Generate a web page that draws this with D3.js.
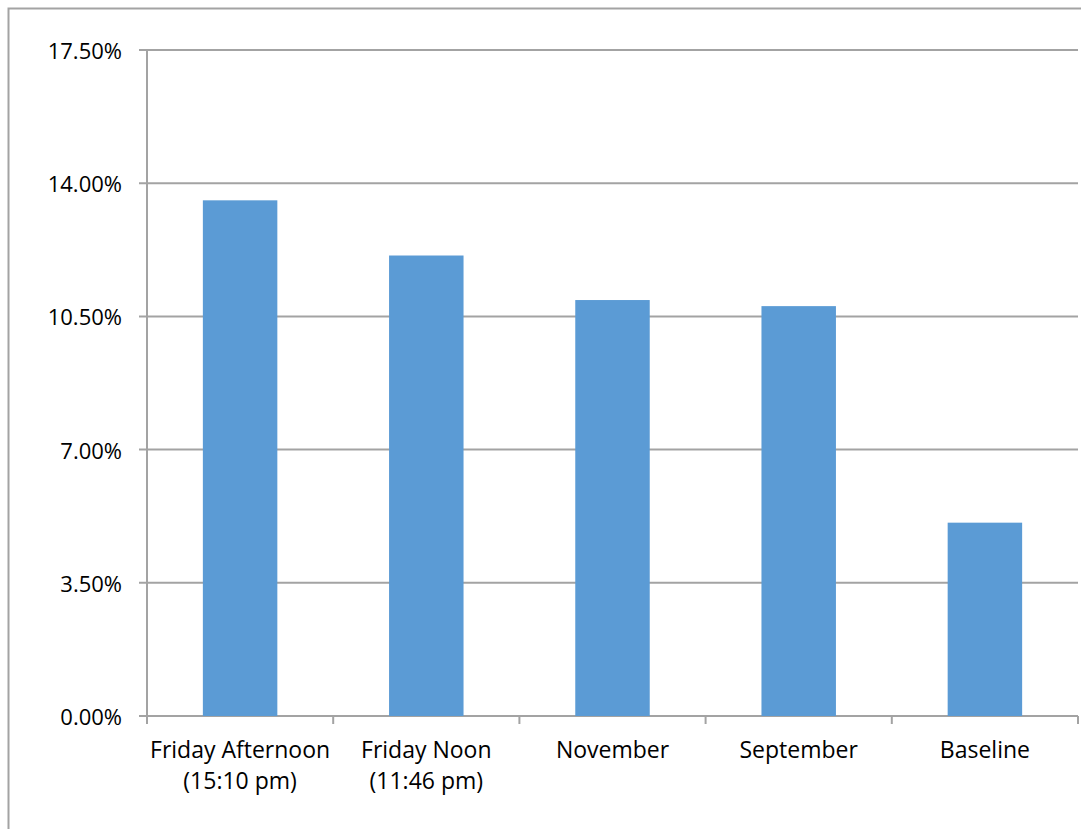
<!DOCTYPE html>
<html>
<head>
<meta charset="utf-8">
<script src="https://cdn.jsdelivr.net/npm/d3@7/dist/d3.min.js"></script>
<style>
  html, body { margin: 0; padding: 0; background: #fff; }
  svg { display: block; }
  text { font-family: "Open Sans", "Noto Sans", sans-serif; fill: #000; }
</style>
</head>
<body>
<svg id="chart" width="1081" height="829"></svg>
<script>
// Share of responses per group
const categories = ["Friday Afternoon|(15:10 pm)", "Friday Noon|(11:46 pm)", "November", "September", "Baseline"];
const values = [0.1355, 0.1210, 0.1093, 0.1077, 0.0508];
const yTicks = [0, 0.035, 0.07, 0.105, 0.14, 0.175];

const W = 1081, H = 829;
const plot = { left: 147, right: 1078, top: 50, bottom: 716 };
const gridColor = "#a3a3a3";
const barColor = "#5b9bd5";

const svg = d3.select("#chart");

// outer chart frame (extends past the right/bottom edges)
svg.append("rect")
  .attr("x", 8.5).attr("y", 8.5)
  .attr("width", W + 20).attr("height", H + 20)
  .attr("fill", "none").attr("stroke", gridColor).attr("stroke-width", 2);

const x = d3.scaleBand()
  .domain(categories)
  .range([plot.left, plot.right])
  .paddingInner(0.6)
  .paddingOuter(0.3);

const y = d3.scaleLinear()
  .domain([0, 0.175])
  .range([plot.bottom, plot.top]);

// horizontal gridlines + tick marks + labels
const fmt = d3.format(".2%");
const yg = svg.append("g");
yTicks.forEach(t => {
  const yy = y(t);
  yg.append("line")
    .attr("x1", plot.left - 8).attr("x2", plot.right)
    .attr("y1", yy).attr("y2", yy)
    .attr("stroke", gridColor).attr("stroke-width", 2);
  yg.append("text")
    .attr("x", 122).attr("y", yy)
    .attr("text-anchor", "end")
    .attr("dominant-baseline", "central")
    .attr("font-size", 22)
    .text(fmt(t));
});

// bars
svg.append("g").selectAll("rect")
  .data(values)
  .join("rect")
  .attr("x", (d, i) => x(categories[i]))
  .attr("width", x.bandwidth())
  .attr("y", d => y(d))
  .attr("height", d => y(0) - y(d))
  .attr("fill", barColor);

// vertical axis line
svg.append("line")
  .attr("x1", plot.left).attr("x2", plot.left)
  .attr("y1", plot.top).attr("y2", plot.bottom + 8)
  .attr("stroke", gridColor).attr("stroke-width", 2);

// category boundary ticks
const bounds = d3.range(categories.length + 1).map(i => plot.left + i * (plot.right - plot.left) / categories.length);
svg.append("g").selectAll("line")
  .data(bounds)
  .join("line")
  .attr("x1", d => d).attr("x2", d => d)
  .attr("y1", plot.bottom).attr("y2", plot.bottom + 8)
  .attr("stroke", gridColor).attr("stroke-width", 2);

// category labels (two lines where needed)
const xl = svg.append("g");
categories.forEach(c => {
  const cx = x(c) + x.bandwidth() / 2;
  const lines = c.split("|");
  const t = xl.append("text")
    .attr("text-anchor", "middle")
    .attr("font-size", 23);
  lines.forEach((ln, j) => {
    t.append("tspan")
      .attr("x", cx)
      .attr("y", 758 + j * 31)
      .text(ln);
  });
});
</script>
</body>
</html>
